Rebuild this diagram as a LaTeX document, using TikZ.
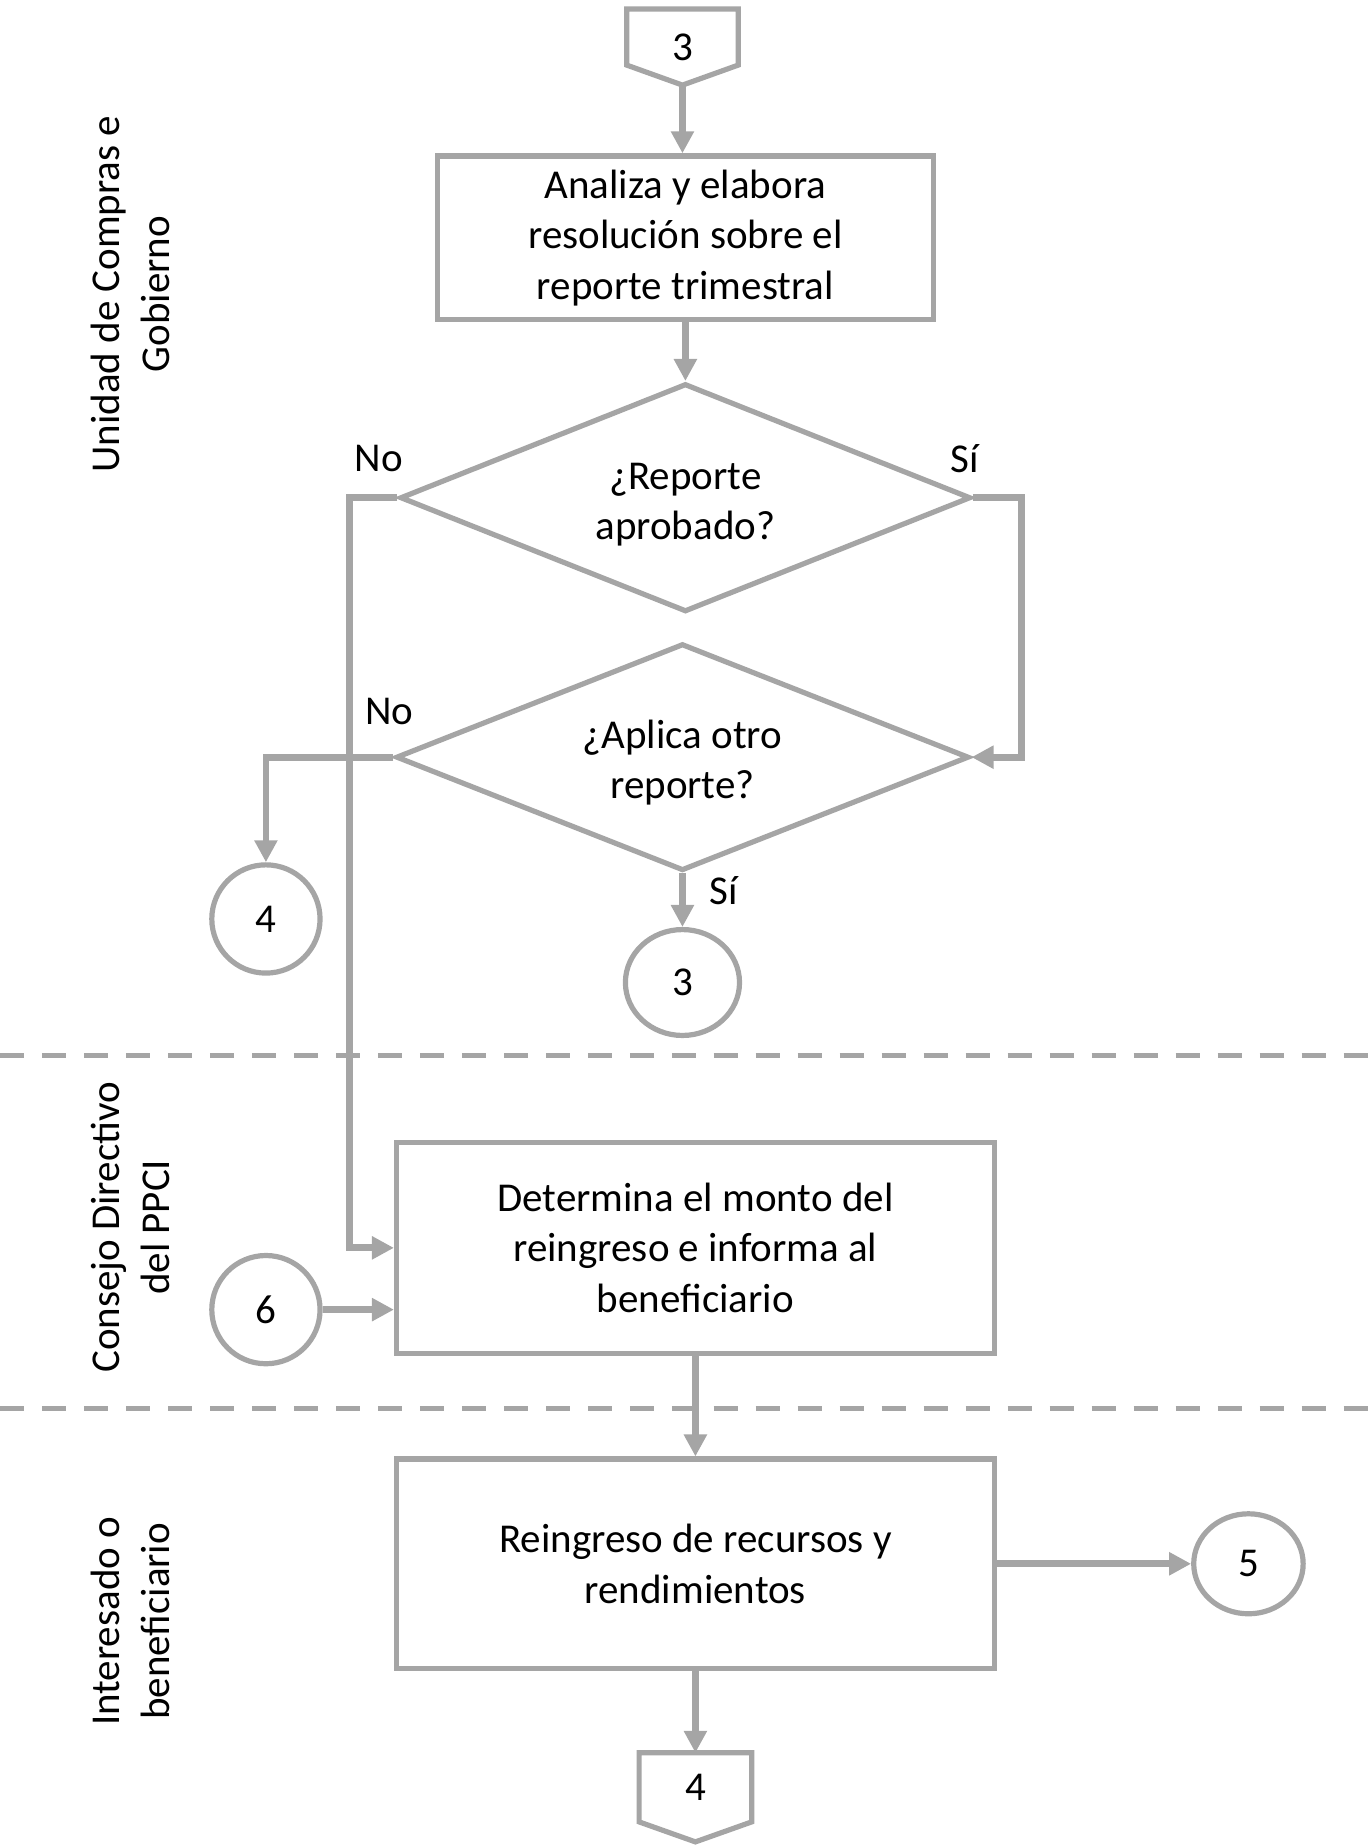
\documentclass[tikz,border=0pt]{standalone}
\usepackage{fontspec}
\setmainfont{Carlito}
\usetikzlibrary{arrows.meta,shapes.geometric,calc}
\definecolor{lg}{HTML}{A5A5A5}
\def\pxu{0.58855pt}
\begin{document}
\begin{tikzpicture}[x=0.58855pt,y=-0.58855pt,
  txt/.style={font=\fontsize{20.5}{25.3}\selectfont},
  proc/.style={txt,draw=lg,line width=2.6pt,align=center,inner sep=0pt,fill=white},
  dec/.style={diamond,draw=lg,line width=2.6pt,inner sep=0pt,shape aspect=2.5,fill=white},
  dtxt/.style={txt,align=center,inner sep=0pt},
  conn/.style={txt,ellipse,draw=lg,line width=2.6pt,inner sep=0pt,fill=white},
  offp/.style={txt,inner sep=0pt},
  arr/.style={draw=lg,line width=3.4pt,-{Triangle[length=11pt,width=11pt]}},
  lane/.style={txt,rotate=90,align=center},
  lbl/.style={txt},
  sep/.style={draw=lg,line width=2.5pt,dash pattern=on 12pt off 9pt}]
\useasboundingbox (0,0) rectangle (1163,1568);

% swimlane separators
\draw[sep] (0,897) -- (1163,897);
\draw[sep] (0,1197) -- (1163,1197);

% lane titles
\node[lane] (lane1) at (111,250) {Unidad de Compras e\\Gobierno};
\node[lane] (lane2) at (111,1043) {Consejo Directivo\\del PPCI};
\node[lane] (lane3) at (111,1378) {Interesado o\\beneficiario};

% nodes
\node[offp,minimum width=94*\pxu,minimum height=64*\pxu] (top3) at (580,40) {3};
\draw[lg,line width=2.6pt] (top3.north west) -- (top3.north east) -- ([yshift=17*\pxu]top3.south east) -- (top3.south) -- ([yshift=17*\pxu]top3.south west) -- cycle;

\node[proc,minimum width=421*\pxu,minimum height=139*\pxu] (b1) at (582.5,202) {Analiza y elabora\\resolución sobre el\\reporte trimestral};
\node[dec,minimum width=485*\pxu,minimum height=194*\pxu] (d1) at (582.5,423) {};
\node[dtxt] (d1t) at (582.5,429) {¿Reporte\\aprobado?};
\node[dec,minimum width=487*\pxu,minimum height=193*\pxu] (d2) at (580,643.5) {};
\node[dtxt] (d2t) at (580,648) {¿Aplica otro\\reporte?};
\node[conn,minimum width=92*\pxu,minimum height=92*\pxu] (c4) at (226,781) {4};
\node[conn,minimum width=97*\pxu,minimum height=90*\pxu] (c3) at (580,835) {3};
\node[proc,minimum width=508*\pxu,minimum height=179*\pxu] (b2) at (591,1060.5) {Determina el monto del\\reingreso e informa al\\beneficiario};
\node[conn,minimum width=92*\pxu,minimum height=92*\pxu] (c6) at (226,1113) {6};
\node[proc,minimum width=508*\pxu,minimum height=178*\pxu] (b3) at (591,1329) {Reingreso de recursos y\\rendimientos};
\node[conn,minimum width=93*\pxu,minimum height=85*\pxu] (c5) at (1061,1329) {5};
\node[offp,minimum width=95*\pxu,minimum height=75*\pxu] (off4) at (591,1527.5) {};
\node[offp] (off4t) at (591,1519) {4};
\draw[lg,line width=2.6pt] (off4.north west) -- (off4.north east) -- ([yshift=17*\pxu]off4.south east) -- (off4.south) -- ([yshift=17*\pxu]off4.south west) -- cycle;

% labels
\node[lbl] (no1) at (322,390) {No};
\node[lbl] (si1) at (820,390) {Sí};
\node[lbl] (no2) at (331,605) {No};
\node[lbl] (si2) at (615,757) {Sí};

% routing coordinates
\coordinate (lx) at (297,0);
\coordinate (rx) at (868,0);

% connectors
\draw[arr] (top3.south) -- (top3.south |- b1.north);
\draw[arr] (b1.south) -- (d1.north);
\draw[arr] (d1.west) -- (d1.west -| lx) |- (b2.west);
\draw[arr] (d1.east) -- (d1.east -| rx) |- (d2.east);
\draw[arr] (d2.west) -| (c4.north);
\draw[arr] (d2.south) -- (c3.north);
\draw[arr] (c6.east) -- (c6.east -| b2.west);
\draw[arr] (b2.south) -- (b3.north);
\draw[arr] (b3.east) -- (c5.west);
\draw[arr] (b3.south) -- (off4.north);
\end{tikzpicture}
\end{document}
